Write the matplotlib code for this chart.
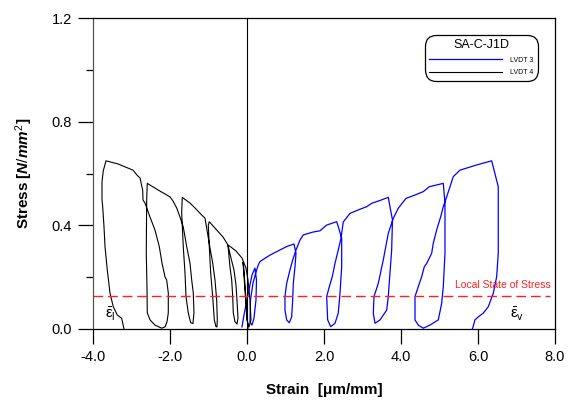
import numpy as np
import matplotlib
matplotlib.use('Agg')
import matplotlib.pyplot as plt
from matplotlib.ticker import MultipleLocator, FormatStrFormatter

plt.rcParams['font.family'] = ['Liberation Sans', 'DejaVu Sans']
plt.rcParams['mathtext.fontset'] = 'custom'
plt.rcParams['mathtext.rm'] = 'Liberation Sans'
plt.rcParams['mathtext.it'] = 'Liberation Sans:italic:bold'
plt.rcParams['mathtext.bf'] = 'Liberation Sans:bold'

# LVDT 4 (black), strain [um/mm] and stress [N/mm2], cycles from origin outwards
lvdt4_strain = [0.026, -0.026, -0.078, -0.104, -0.052, 0.0, 0.052, 0.104, 0.078, 0.026,
                -0.026, -0.13, -0.286, -0.416, -0.494,
                -0.468, -0.442, -0.397, -0.371, -0.356, -0.312, -0.26,
                -0.234, -0.26, -0.286, -0.338, -0.416, -0.494, -0.623, -0.787, -0.979,
                -1.005, -0.979, -0.943, -0.891, -0.849, -0.805, -0.779,
                -0.771, -0.787, -0.831, -0.891, -0.961, -1.039, -1.091, -1.177, -1.351, -1.481, -1.681,
                -1.696, -1.655, -1.610, -1.584, -1.525, -1.462, -1.403,
                -1.377, -1.395, -1.436, -1.481, -1.566, -1.655, -1.740, -1.826, -1.922, -2.000, -2.304, -2.590,
                -2.605, -2.616, -2.597, -2.590, -2.519, -2.390, -2.216,
                -2.130, -2.078, -2.044, -2.044, -2.086, -2.130, -2.208, -2.278, -2.390, -2.519, -2.649, -2.701,
                -2.709, -2.779, -2.857, -2.961, -3.351, -3.662,
                -3.732, -3.766, -3.766, -3.748, -3.714, -3.688, -3.629, -3.558, -3.473, -3.369, -3.255, -3.195]
lvdt4_stress = [0.000, 0.112, 0.228, 0.258, 0.150, 0.035, 0.008, 0.035, 0.112, 0.189,
                0.235, 0.274, 0.301, 0.316, 0.324,
                0.282, 0.239, 0.189, 0.125, 0.062, 0.028, 0.019,
                0.042, 0.112, 0.170, 0.228, 0.274, 0.324, 0.355, 0.382, 0.414,
                0.401, 0.318, 0.216, 0.125, 0.035, 0.009, 0.008,
                0.035, 0.112, 0.189, 0.255, 0.313, 0.382, 0.428, 0.440, 0.467, 0.486, 0.508,
                0.448, 0.318, 0.216, 0.125, 0.062, 0.024, 0.021,
                0.062, 0.139, 0.189, 0.255, 0.318, 0.394, 0.432, 0.467, 0.494, 0.510, 0.536, 0.562,
                0.498, 0.293, 0.162, 0.062, 0.035, 0.015, 0.003,
                0.008, 0.027, 0.062, 0.139, 0.189, 0.201, 0.255, 0.318, 0.382, 0.432, 0.486, 0.498,
                0.536, 0.583, 0.594, 0.613, 0.637, 0.649,
                0.611, 0.568, 0.498, 0.472, 0.395, 0.318, 0.228, 0.138, 0.086, 0.054, 0.041, 0.000]

# LVDT 3 (blue)
lvdt3_strain = [-0.130, -0.078, 0.0, 0.078, 0.130, 0.208, 0.247, 0.234, 0.182, 0.130, 0.078,
                0.091, 0.156, 0.234, 0.294, 0.338, 0.468, 0.597, 0.857, 1.031, 1.221,
                1.273, 1.247, 1.203, 1.187, 1.161, 1.099, 1.031, 0.987, 0.987, 1.031, 1.117, 1.187,
                1.273, 1.377, 1.462, 1.714, 1.896, 2.070, 2.330,
                2.371, 2.460, 2.460, 2.416, 2.371, 2.286, 2.174, 2.096, 2.070, 2.138, 2.216, 2.286,
                2.371, 2.442, 2.501, 2.675, 2.883, 3.109, 3.239, 3.455, 3.670,
                3.714, 3.779, 3.758, 3.670, 3.629, 3.455, 3.325, 3.281, 3.299, 3.410, 3.540, 3.670,
                3.800, 3.930, 4.130, 4.364, 4.579, 4.735, 5.099,
                5.143, 5.143, 5.099, 5.057, 4.969, 4.753, 4.579, 4.449, 4.364, 4.364, 4.449, 4.538,
                4.605, 4.668, 4.797, 4.839, 4.927, 5.031, 5.099, 5.187, 5.273, 5.358, 5.532, 5.966, 6.356,
                6.527, 6.527, 6.486, 6.398, 6.268, 6.138, 6.008, 5.922, 5.862, 5.852]
lvdt3_stress = [0.008, 0.054, 0.112, 0.170, 0.208, 0.235, 0.189, 0.112, 0.042, 0.015, 0.027,
                0.112, 0.177, 0.220, 0.247, 0.260, 0.273, 0.285, 0.305, 0.318, 0.328,
                0.292, 0.240, 0.176, 0.112, 0.047, 0.024, 0.035, 0.073, 0.125, 0.176, 0.228, 0.266,
                0.305, 0.343, 0.363, 0.374, 0.379, 0.401, 0.414,
                0.395, 0.350, 0.240, 0.138, 0.061, 0.022, 0.009, 0.035, 0.125, 0.163, 0.202, 0.253,
                0.305, 0.350, 0.413, 0.446, 0.459, 0.472, 0.485, 0.496, 0.508,
                0.472, 0.421, 0.305, 0.125, 0.073, 0.035, 0.022, 0.061, 0.125, 0.176, 0.266, 0.369,
                0.427, 0.466, 0.504, 0.517, 0.530, 0.549, 0.562,
                0.485, 0.292, 0.163, 0.099, 0.035, 0.015, 0.003, 0.015, 0.035, 0.125, 0.163, 0.202,
                0.240, 0.253, 0.292, 0.331, 0.382, 0.433, 0.472, 0.510, 0.549, 0.588, 0.613, 0.633, 0.649,
                0.549, 0.292, 0.202, 0.138, 0.086, 0.061, 0.047, 0.035, 0.003, 0.000]

local_stress = 0.127

fig = plt.figure(figsize=(5.79, 4.01), dpi=100)
ax = fig.add_axes([0.1606, 0.1796, 0.7979, 0.7754])

ax.plot(lvdt3_strain, lvdt3_stress, color='#0000ff', lw=0.9, label='LVDT 3')
ax.plot(lvdt4_strain, lvdt4_stress, color='black', lw=0.8, label='LVDT 4')
ax.axvline(0, color='black', lw=0.8)
ax.plot([-4, 7.87], [local_stress, local_stress], color='#ff2020', lw=1.0, dashes=(7, 3.5))

ax.text(7.9, 0.15, 'Local State of Stress', color='#ff2020', fontsize=7.5,
        ha='right', va='bottom')
ax.text(-3.7, 0.025, r'$\bar{\mathrm{\varepsilon}}_\mathrm{l}$', fontsize=11, ha='left', va='bottom')
ax.text(6.83, 0.025, r'$\bar{\mathrm{\varepsilon}}_\mathrm{v}$', fontsize=11, ha='left', va='bottom')

ax.set_xlim(-4, 8)
ax.set_ylim(0, 1.2)
ax.xaxis.set_major_locator(MultipleLocator(2))
ax.yaxis.set_major_locator(MultipleLocator(0.4))
ax.yaxis.set_minor_locator(MultipleLocator(0.2))
ax.xaxis.set_major_formatter(FormatStrFormatter('%.1f'))
ax.yaxis.set_major_formatter(FormatStrFormatter('%.1f'))
ax.tick_params(which='major', direction='out', length=11, width=0.9, labelsize=10.5, pad=4)
ax.tick_params(which='minor', direction='out', length=5, width=0.9)
ax.tick_params(axis='x', which='minor', length=0)
for s in ax.spines.values():
    s.set_linewidth(0.9)
ax.spines['left'].set_color('#555555')

ax.set_xlabel('Strain  [\u03bcm/mm]', fontsize=11, fontweight='bold', labelpad=14)
ax.set_ylabel(r'Stress [$\mathit{N/mm^2}$]', fontsize=11, fontweight='bold', labelpad=12)

leg = ax.legend(title='SA-C-J1D', loc='upper right', bbox_to_anchor=(0.963, 0.945),
                borderaxespad=0, fontsize=5, title_fontsize=9, handlelength=10.5,
                frameon=True, fancybox=True, edgecolor='black', framealpha=1,
                borderpad=0.6, labelspacing=0.8, handletextpad=1.2)
leg.get_frame().set_linewidth(0.9)
leg.get_frame().set_boxstyle('round', pad=0, rounding_size=1.6)

fig.savefig('out.png', dpi=100)
